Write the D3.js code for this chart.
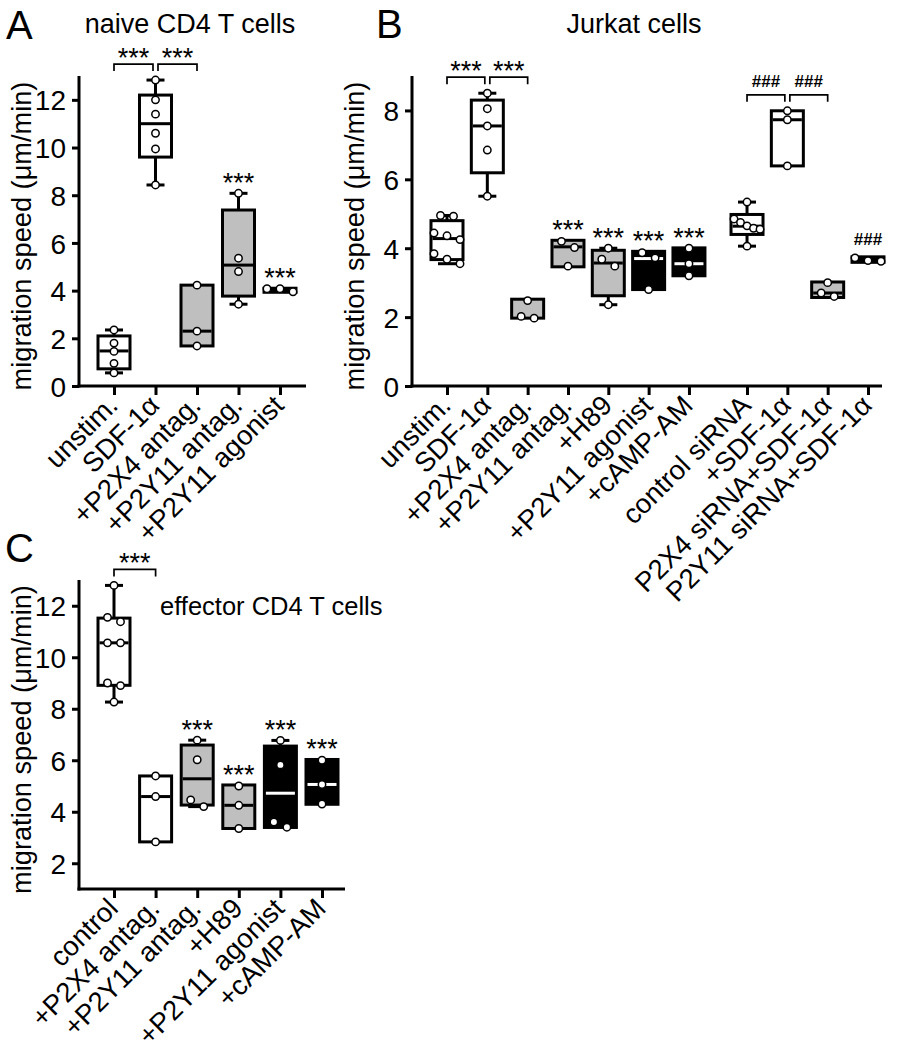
<!DOCTYPE html>
<html>
<head>
<meta charset="utf-8">
<script src="https://cdn.jsdelivr.net/npm/d3@7"></script>
<style>
  html, body { margin: 0; padding: 0; background: #fff; }
  svg { display: block; }
  text { font-family: 'Liberation Sans', Arial, Helvetica, sans-serif; fill: #000; }
</style>
</head>
<body>
<svg id="fig" width="909" height="1050"></svg>
<script>
// ---------------- DATA ----------------
// Panel A: naive CD4 T cells
const categoriesA = ["unstim.", "SDF-1\u03B1", "+P2X4 antag.", "+P2Y11 antag.", "+P2Y11 agonist"];
const treatmentA = ["none", "none", "antagonist", "antagonist", "agonist"];
const pointsA = [
  [2.35, 1.8, 1.45, 0.95, 0.55],
  [12.83, 12.0, 11.4, 10.6, 9.94, 8.43],
  [4.23, 2.3, 1.68],
  [8.08, 5.36, 4.8, 3.43],
  [4.08, 3.95, 4.08]
];
const q1A = [0.72, 9.6, 1.68, 3.77, 3.93];
const medianA = [1.47, 11.0, 2.3, 5.07, 4.08];
const q3A = [2.1, 12.2, 4.23, 7.38, 4.1];
const minA = [0.55, 8.43, 1.68, 3.43, 3.93];
const maxA = [2.35, 12.83, 4.23, 8.08, 4.1];
const marksA = ["", "", "", "***", "***"];
const bracketsA = [[0, 1, "***"], [1, 2, "***"]];
const yTicksA = [0, 2, 4, 6, 8, 10, 12];

// Panel B: Jurkat cells
const categoriesB = ["unstim.", "SDF-1\u03B1", "+P2X4 antag.", "+P2Y11 antag.", "+H89", "+P2Y11 agonist", "+cAMP-AM",
  "control siRNA", "+SDF-1\u03B1", "P2X4 siRNA+SDF-1\u03B1", "P2Y11 siRNA+SDF-1\u03B1"];
const groupB = [0, 0, 0, 0, 0, 0, 0, 1, 1, 1, 1];
const treatmentB = ["none", "none", "antagonist", "antagonist", "antagonist", "agonist", "agonist",
  "none", "none", "antagonist", "agonist"];
const pointsB = [
  [4.95, 4.93, 4.44, 4.36, 4.25, 3.84, 3.68, 3.55],
  [8.5, 8.05, 7.55, 6.85, 5.51],
  [2.48, 2.02, 1.97],
  [4.2, 4.02, 3.48],
  [4.0, 3.68, 3.48, 2.36],
  [3.87, 3.72, 2.8],
  [4.0, 3.55, 3.2],
  [5.34, 4.85, 4.75, 4.65, 4.58, 4.55, 4.06],
  [7.99, 7.73, 6.39],
  [3.0, 2.7, 2.6],
  [3.72, 3.64, 3.62]
];
const q1B = [3.67, 6.19, 1.97, 3.46, 2.62, 2.8, 3.2, 4.4, 6.39, 2.57, 3.59];
const medianB = [4.28, 7.55, 2.02, 4.04, 3.57, 3.7, 3.55, 4.64, 7.73, 2.7, 3.62];
const q3B = [4.8, 8.3, 2.52, 4.23, 3.94, 3.91, 4.01, 4.98, 7.99, 3.02, 3.75];
const minB = [3.55, 5.51, 1.97, 3.46, 2.36, 2.8, 3.2, 4.06, 6.39, 2.57, 3.59];
const maxB = [4.95, 8.5, 2.52, 4.23, 4.0, 3.91, 4.01, 5.34, 7.99, 3.02, 3.75];
const marksB = ["", "", "", "***", "***", "***", "***", "", "", "", "###"];
const bracketsB = [[0, 1, "***"], [1, 2, "***"], [7, 8, "###"], [8, 9, "###"]];
const yTicksB = [0, 2, 4, 6, 8];

// Panel C: effector CD4 T cells
const categoriesC = ["control", "+P2X4 antag.", "+P2Y11 antag.", "+H89", "+P2Y11 agonist", "+cAMP-AM"];
const treatmentC = ["none", "none", "antagonist", "antagonist", "agonist", "agonist"];
const pointsC = [
  [12.79, 11.55, 11.38, 10.56, 10.56, 9.0, 8.9, 8.26],
  [5.39, 4.59, 2.83],
  [6.78, 6.02, 4.46, 4.2],
  [5.0, 4.25, 3.35],
  [6.77, 5.82, 3.6, 3.4],
  [6.0, 5.06, 4.3]
];
const q1C = [8.91, 2.83, 4.26, 3.35, 3.39, 4.29];
const medianC = [10.56, 4.59, 5.28, 4.25, 4.72, 5.06];
const q3C = [11.52, 5.39, 6.59, 5.04, 6.55, 6.03];
const minC = [8.26, 2.83, 4.2, 3.35, 3.4, 4.29];
const maxC = [12.79, 5.39, 6.78, 5.04, 6.77, 6.03];
const marksC = ["", "", "***", "***", "***", "***"];
const bracketsC = [[0, 1, "***"]];
const yTicksC = [2, 4, 6, 8, 10, 12];

const yTitle = "migration speed (\u03BCm/min)";

// ---------------- STYLE ----------------
const FONT = "'Liberation Sans', Arial, sans-serif";
const fillFor = { none: "#ffffff", antagonist: "#bfbfbf", agonist: "#000000" };
const medianColorFor = { none: "#000", antagonist: "#000", agonist: "#fff" };
const BOX_W = 32, CAP_W = 18, R = 3.7;

const svg = d3.select("#fig");

function dodge(values, y) {
  // groups points that nearly overlap vertically and spreads them sideways
  const idx = values.map((v, i) => i).sort((a, b) => values[b] - values[a]);
  const offs = new Array(values.length).fill(0);
  let rows = [], cur = [];
  idx.forEach((i, k) => {
    if (k === 0 || Math.abs(y(values[i]) - y(values[idx[k - 1]])) < 8) cur.push(i);
    else { rows.push(cur); cur = [i]; }
  });
  if (cur.length) rows.push(cur);
  rows.forEach(row => {
    const n = row.length;
    if (n === 1) return;
    const step = Math.min(13, 26 / (n - 1));
    row.forEach((i, j) => { offs[i] = (j - (n - 1) / 2) * step; });
  });
  return offs;
}

function markText(g, x, y, label, baselineStar, baselineHash) {
  const isHash = label[0] === "#";
  g.append("text").attr("x", x).attr("y", isHash ? baselineHash : baselineStar)
    .attr("text-anchor", "middle")
    .attr("font-size", isHash ? 17 : 27)
    .attr("font-weight", isHash ? "bold" : "normal")
    .text(label);
}

function panel(cfg) {
  const g = svg.append("g");
  const { y } = cfg;
  const n = cfg.cats.length;
  const xs = d3.range(n).map(i => cfg.xpos(i));

  // y axis
  const yAx = g.append("g").attr("transform", `translate(${cfg.axisX},0)`)
    .call(d3.axisLeft(y).tickValues(cfg.yTicks).tickSize(7).tickPadding(6).tickFormat(d3.format("d")));
  yAx.select(".domain").remove();
  yAx.selectAll(".tick line").attr("stroke", "#000").attr("stroke-width", 3);
  yAx.selectAll(".tick text").attr("font-size", 28).attr("dy", "0.36em").style("font-family", FONT);
  g.append("line").attr("x1", cfg.axisX).attr("x2", cfg.axisX)
    .attr("y1", y.range()[1]).attr("y2", y.range()[0] + 1.5)
    .attr("stroke", "#000").attr("stroke-width", 3);

  // x axis
  const xAx = g.append("g").attr("transform", `translate(0,${y.range()[0]})`)
    .call(cfg.xAxis.tickSize(9).tickPadding(4));
  xAx.select(".domain").remove();
  xAx.selectAll(".tick line").attr("stroke", "#000").attr("stroke-width", 3);
  xAx.selectAll(".tick text")
    .attr("font-size", 27.5)
    .attr("text-anchor", "end")
    .attr("x", 0).attr("y", 0).attr("dy", 0)
    .attr("transform", "translate(5,21) rotate(-45)")
    .style("font-family", FONT);
  g.append("line").attr("x1", cfg.axisX - 1.5).attr("x2", cfg.axisRight)
    .attr("y1", y.range()[0]).attr("y2", y.range()[0])
    .attr("stroke", "#000").attr("stroke-width", 3);

  // boxes
  for (let i = 0; i < n; i++) {
    const cx = xs[i];
    const fill = fillFor[cfg.treat[i]];
    const yq1 = y(cfg.q1[i]), yq3 = y(cfg.q3[i]), ymd = y(cfg.med[i]);
    const bg = g.append("g");
    if (y(cfg.max[i]) < yq3 - 1) {
      bg.append("line").attr("x1", cx).attr("x2", cx).attr("y1", yq3).attr("y2", y(cfg.max[i]))
        .attr("stroke", "#000").attr("stroke-width", 3);
      bg.append("line").attr("x1", cx - CAP_W / 2).attr("x2", cx + CAP_W / 2)
        .attr("y1", y(cfg.max[i])).attr("y2", y(cfg.max[i])).attr("stroke", "#000").attr("stroke-width", 3);
    }
    if (y(cfg.min[i]) > yq1 + 1) {
      bg.append("line").attr("x1", cx).attr("x2", cx).attr("y1", yq1).attr("y2", y(cfg.min[i]))
        .attr("stroke", "#000").attr("stroke-width", 3);
      bg.append("line").attr("x1", cx - CAP_W / 2).attr("x2", cx + CAP_W / 2)
        .attr("y1", y(cfg.min[i])).attr("y2", y(cfg.min[i])).attr("stroke", "#000").attr("stroke-width", 3);
    }
    bg.append("rect").attr("x", cx - BOX_W / 2).attr("y", yq3).attr("width", BOX_W).attr("height", yq1 - yq3)
      .attr("fill", fill).attr("stroke", "#000").attr("stroke-width", 3);
    if (ymd > yq3 + 2.5 && ymd < yq1 - 2.5) {
      bg.append("line").attr("x1", cx - BOX_W / 2 + 1.5).attr("x2", cx + BOX_W / 2 - 1.5)
        .attr("y1", ymd).attr("y2", ymd)
        .attr("stroke", medianColorFor[cfg.treat[i]]).attr("stroke-width", 3);
    }
    const offs = dodge(cfg.points[i], y);
    bg.selectAll("circle").data(cfg.points[i]).join("circle")
      .attr("cx", (d, k) => cx + offs[k]).attr("cy", d => y(d)).attr("r", R)
      .attr("fill", "#fff").attr("stroke", "#000").attr("stroke-width", 1.5);

    const m = cfg.marks[i];
    if (m) {
      const top = y(cfg.max[i]);
      markText(g, cx, top, m, top - 1, top - 12);
    }
  }

  // brackets
  cfg.brackets.forEach(([a, b, label], k) => {
    const top = d3.min(d3.range(a, b + 1), i => y(cfg.max[i]));
    const by = top - 16;
    let x1 = xs[a], x2 = xs[b];
    if (cfg.brackets.some(([a2, b2], k2) => k2 !== k && b2 === a)) x1 += 2.5;
    if (cfg.brackets.some(([a2, b2], k2) => k2 !== k && a2 === b)) x2 -= 2.5;
    g.append("path").attr("d", `M${x1},${by + 7}V${by}H${x2}V${by + 7}`)
      .attr("fill", "none").attr("stroke", "#000").attr("stroke-width", 1.7);
    markText(g, (x1 + x2) / 2, by, label, by + 3, by - 8);
  });

  // y title
  const ymid = (y.range()[0] + y.range()[1]) / 2 + 5;
  g.append("text").attr("transform", `translate(${cfg.axisX - 48},${ymid}) rotate(-90)`)
    .attr("text-anchor", "middle").attr("font-size", 27.2).text(yTitle);

  g.append("text").attr("x", cfg.title.x).attr("y", cfg.title.y).attr("text-anchor", cfg.title.anchor)
    .attr("font-size", cfg.title.size).text(cfg.title.text);
  g.append("text").attr("x", cfg.letter.x).attr("y", cfg.letter.y)
    .attr("font-size", 40).text(cfg.letter.text);
}

// Panel A
{
  const x = d3.scalePoint().domain(categoriesA).range([114, 280]);
  const y = d3.scaleLinear().domain([0, 13]).range([386, 76]);
  panel({ y, xAxis: d3.axisBottom(x), xpos: i => x(categoriesA[i]), cats: categoriesA, treat: treatmentA,
    points: pointsA, q1: q1A, med: medianA, q3: q3A, min: minA, max: maxA, marks: marksA, brackets: bracketsA,
    yTicks: yTicksA, axisX: 79, axisRight: 306,
    title: { text: "naive CD4 T cells", x: 190, y: 33, anchor: "middle", size: 27 },
    letter: { text: "A", x: 6, y: 39 } });
}
// Panel B
{
  const gap = 0.44;
  const pos = categoriesB.map((c, i) => i + groupB[i] * gap);
  const x = d3.scaleLinear().domain([0, d3.max(pos)]).range([447, 868]);
  const xAxis = d3.axisBottom(x).tickValues(pos).tickFormat((d, i) => categoriesB[i]);
  const y = d3.scaleLinear().domain([0, 9]).range([386, 76]);
  panel({ y, xAxis, xpos: i => x(pos[i]), cats: categoriesB, treat: treatmentB, points: pointsB,
    q1: q1B, med: medianB, q3: q3B, min: minB, max: maxB, marks: marksB, brackets: bracketsB,
    yTicks: yTicksB, axisX: 412, axisRight: 882,
    title: { text: "Jurkat cells", x: 634, y: 33, anchor: "middle", size: 27 },
    letter: { text: "B", x: 376, y: 38 } });
}
// Panel C
{
  const x = d3.scalePoint().domain(categoriesC).range([114, 322]);
  const y = d3.scaleLinear().domain([1, 13]).range([889, 580]);
  panel({ y, xAxis: d3.axisBottom(x), xpos: i => x(categoriesC[i]), cats: categoriesC, treat: treatmentC,
    points: pointsC, q1: q1C, med: medianC, q3: q3C, min: minC, max: maxC, marks: marksC, brackets: bracketsC,
    yTicks: yTicksC, axisX: 79, axisRight: 345,
    title: { text: "effector CD4 T cells", x: 160, y: 615, anchor: "start", size: 25.5 },
    letter: { text: "C", x: 5, y: 562 } });
}
</script>
</body>
</html>
